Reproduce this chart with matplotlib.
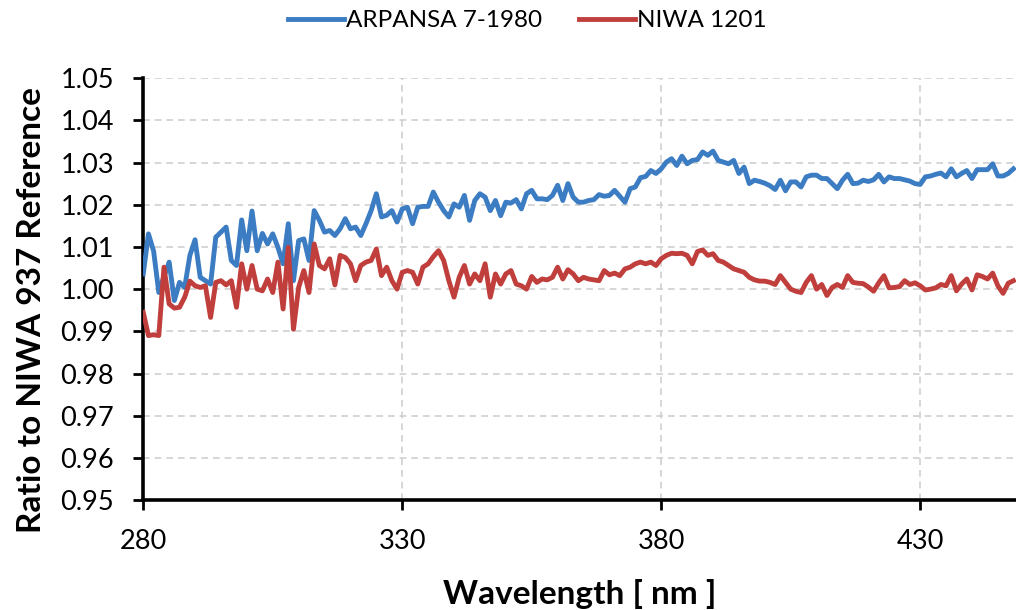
import matplotlib
matplotlib.use("Agg")
import matplotlib.pyplot as plt
from matplotlib.ticker import MultipleLocator, FormatStrFormatter

plt.rcParams['font.family'] = ['Lato', 'DejaVu Sans']

wavelength = list(range(280, 449))

arpansa = [
    1.0036, 1.0131, 1.0090, 0.9992, 1.0030, 1.0064, 0.9973, 1.0016, 1.0004, 1.0080,
    1.0117, 1.0028, 1.0020, 1.0012, 1.0123, 1.0135, 1.0147, 1.0068, 1.0056, 1.0164,
    1.0091, 1.0185, 1.0091, 1.0132, 1.0107, 1.0131, 1.0099, 1.0060, 1.0155, 1.0020,
    1.0115, 1.0119, 1.0068, 1.0186, 1.0163, 1.0135, 1.0139, 1.0127, 1.0143, 1.0167,
    1.0143, 1.0147, 1.0127, 1.0155, 1.0186, 1.0226, 1.0171, 1.0175, 1.0186, 1.0159,
    1.0190, 1.0194, 1.0155, 1.0194, 1.0196, 1.0196, 1.0230, 1.0206, 1.0186, 1.0171,
    1.0202, 1.0194, 1.0222, 1.0163, 1.0210, 1.0226, 1.0218, 1.0186, 1.0210, 1.0174,
    1.0206, 1.0204, 1.0212, 1.0190, 1.0226, 1.0234, 1.0214, 1.0214, 1.0212, 1.0222,
    1.0246, 1.0210, 1.0250, 1.0218, 1.0206, 1.0206, 1.0210, 1.0212, 1.0224, 1.0220,
    1.0222, 1.0234, 1.0220, 1.0206, 1.0238, 1.0242, 1.0264, 1.0267, 1.0281, 1.0274,
    1.0285, 1.0301, 1.0309, 1.0293, 1.0315, 1.0297, 1.0305, 1.0307, 1.0325, 1.0317,
    1.0327, 1.0305, 1.0301, 1.0297, 1.0305, 1.0274, 1.0289, 1.0250, 1.0258, 1.0255,
    1.0251, 1.0245, 1.0236, 1.0258, 1.0233, 1.0254, 1.0254, 1.0242, 1.0266, 1.0270,
    1.0270, 1.0262, 1.0262, 1.0250, 1.0238, 1.0258, 1.0272, 1.0250, 1.0251, 1.0258,
    1.0255, 1.0259, 1.0272, 1.0254, 1.0266, 1.0262, 1.0262, 1.0259, 1.0256, 1.0250,
    1.0248, 1.0266, 1.0268, 1.0272, 1.0275, 1.0266, 1.0285, 1.0266, 1.0274, 1.0281,
    1.0262, 1.0283, 1.0283, 1.0283, 1.0297, 1.0268, 1.0268, 1.0274, 1.0285,
]

niwa = [
    0.9945, 0.9890, 0.9892, 0.9890, 1.0052, 0.9965, 0.9955, 0.9957, 0.9981, 1.0019,
    1.0008, 1.0004, 1.0008, 0.9933, 1.0016, 1.0020, 1.0010, 1.0020, 0.9957, 1.0060,
    1.0000, 1.0056, 1.0000, 0.9996, 1.0024, 0.9992, 1.0064, 0.9953, 1.0099, 0.9905,
    1.0004, 1.0044, 0.9992, 1.0107, 1.0056, 1.0048, 1.0072, 1.0010, 1.0080, 1.0075,
    1.0060, 1.0020, 1.0056, 1.0064, 1.0068, 1.0095, 1.0032, 1.0052, 1.0020, 1.0000,
    1.0040, 1.0044, 1.0040, 1.0012, 1.0052, 1.0060, 1.0077, 1.0091, 1.0068, 1.0020,
    0.9981, 1.0028, 1.0056, 1.0012, 1.0036, 1.0020, 1.0060, 0.9981, 1.0036, 1.0012,
    1.0036, 1.0044, 1.0012, 1.0008, 1.0000, 1.0030, 1.0016, 1.0024, 1.0022, 1.0028,
    1.0052, 1.0024, 1.0046, 1.0036, 1.0020, 1.0028, 1.0024, 1.0022, 1.0020, 1.0044,
    1.0034, 1.0038, 1.0032, 1.0048, 1.0052, 1.0060, 1.0064, 1.0060, 1.0064, 1.0056,
    1.0072, 1.0080, 1.0085, 1.0084, 1.0085, 1.0080, 1.0060, 1.0089, 1.0093, 1.0080,
    1.0084, 1.0068, 1.0064, 1.0056, 1.0048, 1.0044, 1.0040, 1.0028, 1.0022, 1.0019,
    1.0019, 1.0016, 1.0011, 1.0032, 1.0016, 1.0000, 0.9995, 0.9992, 1.0016, 1.0032,
    1.0000, 1.0011, 0.9985, 1.0004, 1.0011, 1.0004, 1.0032, 1.0016, 1.0014, 1.0013,
    1.0005, 0.9995, 1.0015, 1.0032, 1.0003, 1.0004, 1.0006, 1.0020, 1.0011, 1.0015,
    1.0008, 0.9998, 1.0000, 1.0003, 1.0011, 1.0008, 1.0032, 0.9996, 1.0012, 1.0024,
    0.9998, 1.0034, 1.0030, 1.0024, 1.0038, 1.0008, 0.9990, 1.0014, 1.0020,
]

series_names = ["ARPANSA 7-1980", "NIWA 1201"]
x_ticks = [280, 330, 380, 430]

fig = plt.figure(figsize=(10.16, 6.10), dpi=100)
ax = fig.add_axes([0.141, 0.180, 0.859, 0.692])

ax.plot(wavelength, arpansa, color='#3B7CC2', lw=3.5, label=series_names[0],
        solid_joinstyle='round', zorder=3)
ax.plot(wavelength, niwa, color='#C03F3C', lw=3.5, label=series_names[1],
        solid_joinstyle='round', zorder=3)

ax.set_xlim(280, 448.5)
ax.set_ylim(0.95, 1.05)
ax.set_xticks(x_ticks)
ax.yaxis.set_major_locator(MultipleLocator(0.01))
ax.yaxis.set_major_formatter(FormatStrFormatter('%.2f'))

ax.grid(True, color='#CFCFCF', linestyle=(0, (4, 3)), linewidth=1.2, zorder=0)
for s in ['top', 'right']:
    ax.spines[s].set_visible(False)
for s in ['left', 'bottom']:
    ax.spines[s].set_linewidth(2.6)
    ax.spines[s].set_color('black')

ax.tick_params(axis='both', which='major', direction='out', length=7, width=2,
               labelsize=19.5, colors='black')
ax.tick_params(axis='y', pad=14)
ax.tick_params(axis='x', pad=14)

ax.set_xlabel("Wavelength [ nm ]", fontsize=24, fontweight='bold', labelpad=18)
ax.set_ylabel("Ratio to NIWA 937 Reference", fontsize=24, fontweight='bold')
ax.yaxis.set_label_coords(-0.111, 0.45)

fig.legend(loc='center', bbox_to_anchor=(0.519, 0.966), ncol=2, frameon=False,
           fontsize=17.5, handlelength=2.3, columnspacing=1.5, handletextpad=0.1)

fig.savefig("out.png", dpi=100)
